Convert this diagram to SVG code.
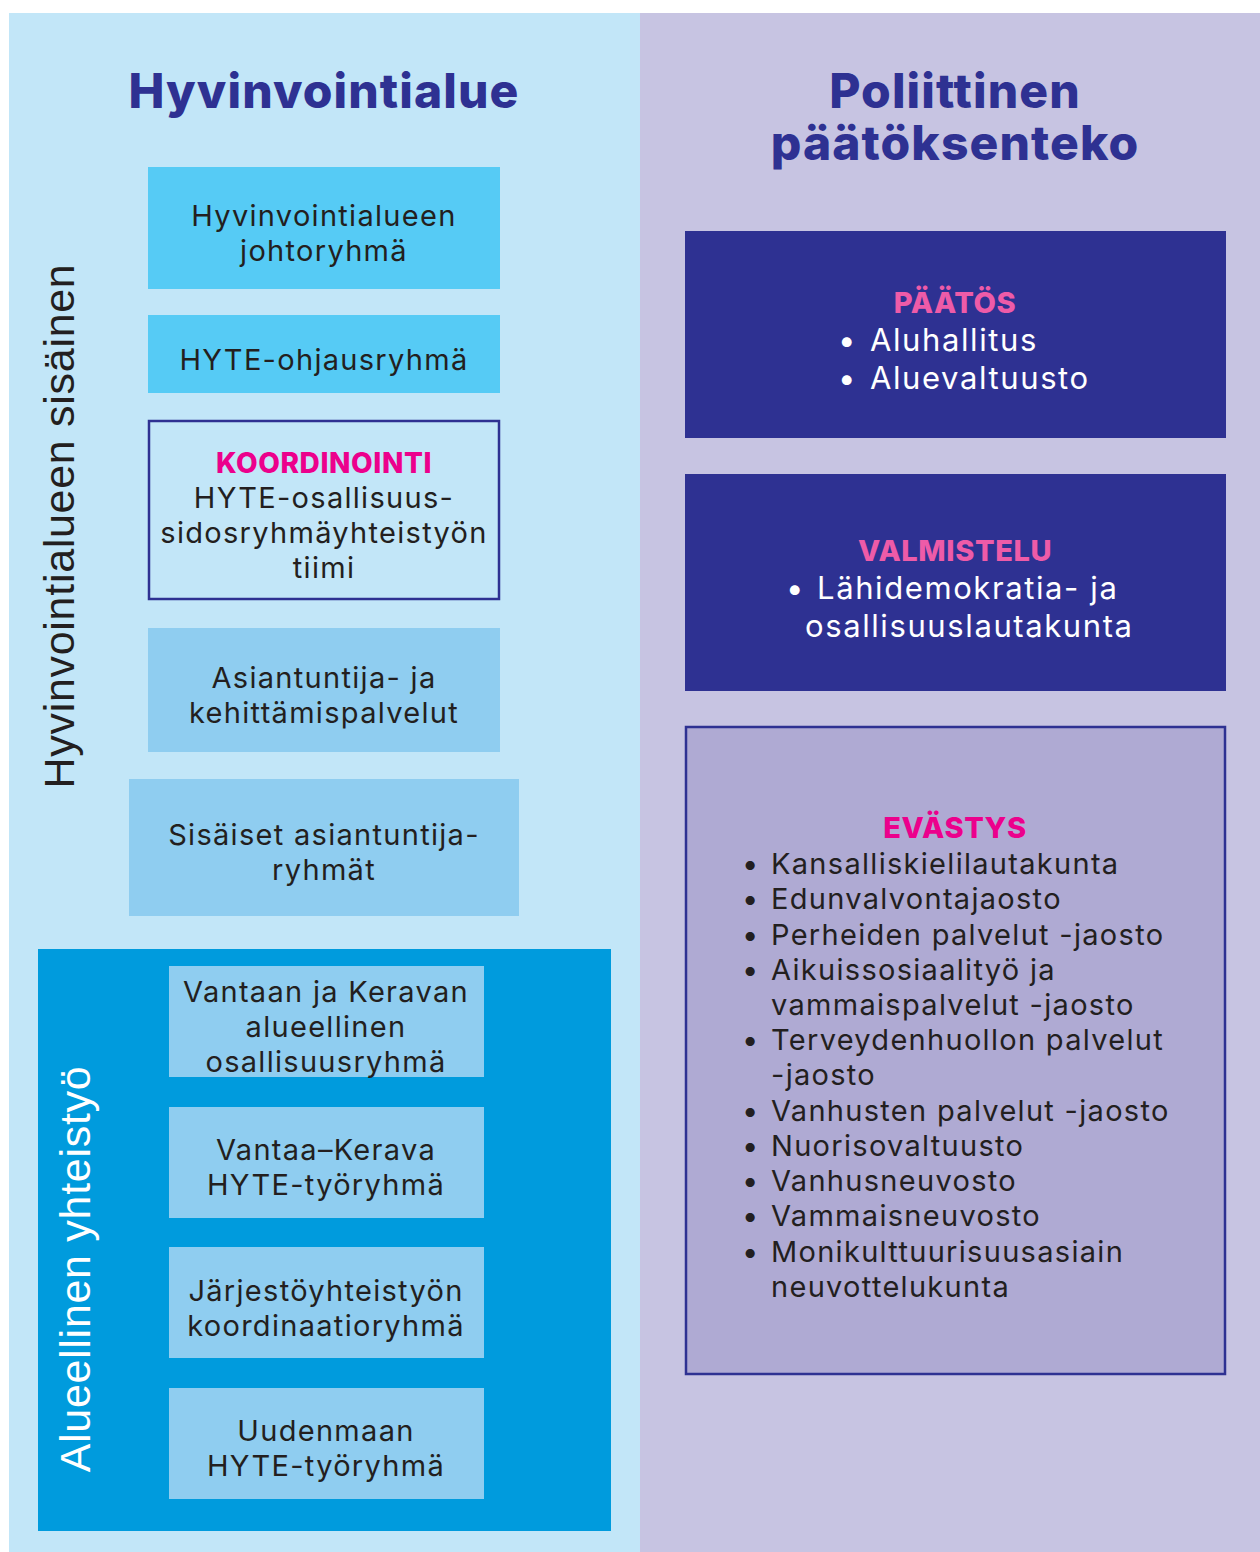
<svg xmlns="http://www.w3.org/2000/svg" width="1260" height="1552" viewBox="0 0 1260 1552">
<style>
.t{font-family:Inter,"Noto Sans","Liberation Sans",sans-serif;font-size:29px;letter-spacing:1.3px;fill:#231f20;text-anchor:middle}
.title{font-family:Inter,"Noto Sans","Liberation Sans",sans-serif;font-weight:800;font-size:48px;letter-spacing:1.1px;fill:#2e3192;text-anchor:middle}
.pink{font-family:Inter,"Noto Sans","Liberation Sans",sans-serif;font-weight:800;font-size:28px;letter-spacing:0.6px;fill:#ec008c;text-anchor:middle}
.w{font-family:Inter,"Noto Sans","Liberation Sans",sans-serif;font-size:31px;letter-spacing:1.6px;fill:#ffffff}
.l{font-family:Inter,"Noto Sans","Liberation Sans",sans-serif;font-size:29px;letter-spacing:1.3px;fill:#231f20}
.vert{font-family:"Liberation Sans",Arial,sans-serif;font-size:43px;letter-spacing:0.7px;text-anchor:middle}
.c1{fill:#56cbf5}
.c2{fill:#8fcdf0}
</style>
<rect x="0" y="0" width="1260" height="1552" fill="#ffffff"/>
<rect x="9" y="13" width="631" height="1539" fill="#c2e6f8"/>
<rect x="640" y="13" width="620" height="1539" fill="#c7c4e2"/>
<text class="title" x="324" y="108">Hyvinvointialue</text>
<text class="title" x="955" y="108">Poliittinen<tspan x="955" y="160">päätöksenteko</tspan></text>
<text class="vert" fill="#231f20" transform="translate(74,526) rotate(-90)">Hyvinvointialueen sisäinen</text>
<g id="connectors"/>
<g id="n1"><rect class="c1" x="148" y="167" width="352" height="122"/>
<text class="t" x="324" y="226">Hyvinvointialueen</text><text class="t" x="324" y="261">johtoryhmä</text></g>
<g id="n2"><rect class="c1" x="148" y="315" width="352" height="78"/>
<text class="t" x="324" y="370">HYTE-ohjausryhmä</text></g>
<g id="n3"><rect x="149" y="421" width="350" height="178" fill="none" stroke="#2e3192" stroke-width="2.5"/>
<text class="pink" x="324" y="473">KOORDINOINTI</text>
<text class="t" x="324" y="508">HYTE-osallisuus-</text>
<text class="t" x="324" y="543">sidosryhmäyhteistyön</text>
<text class="t" x="324" y="578">tiimi</text></g>
<g id="n4"><rect class="c2" x="148" y="628" width="352" height="124"/>
<text class="t" x="324" y="688">Asiantuntija- ja</text><text class="t" x="324" y="723">kehittämispalvelut</text></g>
<g id="n5"><rect class="c2" x="129" y="779" width="390" height="137"/>
<text class="t" x="324" y="845">Sisäiset asiantuntija-</text><text class="t" x="324" y="880">ryhmät</text></g>
<g id="regional"><rect x="38" y="949" width="573" height="582" fill="#009bdd"/>
<text class="vert" fill="#ffffff" transform="translate(90,1269) rotate(-90)">Alueellinen yhteistyö</text></g>
<g id="n6"><rect class="c2" x="169" y="966" width="315" height="111"/>
<text class="t" x="326" y="1002">Vantaan ja Keravan</text><text class="t" x="326" y="1037">alueellinen</text><text class="t" x="326" y="1072">osallisuusryhmä</text></g>
<g id="n7"><rect class="c2" x="169" y="1107" width="315" height="111"/>
<text class="t" x="326" y="1160">Vantaa–Kerava</text><text class="t" x="326" y="1195">HYTE-työryhmä</text></g>
<g id="n8"><rect class="c2" x="169" y="1247" width="315" height="111"/>
<text class="t" x="326" y="1301">Järjestöyhteistyön</text><text class="t" x="326" y="1336">koordinaatioryhmä</text></g>
<g id="n9"><rect class="c2" x="169" y="1388" width="315" height="111"/>
<text class="t" x="326" y="1441">Uudenmaan</text><text class="t" x="326" y="1476">HYTE-työryhmä</text></g>
<g id="r1"><rect x="685" y="231" width="541" height="207" fill="#2e3192"/>
<text class="pink" x="955" y="313" style="fill:#ee5ba8;font-size:29px">PÄÄTÖS</text>
<text class="w" x="838" y="351">•</text><text class="w" x="870" y="351">Aluhallitus</text>
<text class="w" x="838" y="389">•</text><text class="w" x="870" y="389">Aluevaltuusto</text></g>
<g id="r2"><rect x="685" y="474" width="541" height="217" fill="#2e3192"/>
<text class="pink" x="955" y="561" style="fill:#ee5ba8;font-size:29px">VALMISTELU</text>
<text class="w" x="786" y="599">•</text><text class="w" x="817" y="599">Lähidemokratia- ja</text>
<text class="w" x="805" y="637">osallisuuslautakunta</text></g>
<g id="r3"><rect x="686" y="727" width="539" height="647" fill="#afaad3" stroke="#2e3192" stroke-width="2.5"/>
<text class="pink" x="955" y="838" style="font-size:29px">EVÄSTYS</text>
<g>
<text class="l" x="742" y="874">•</text><text class="l" x="771" y="874">Kansalliskielilautakunta</text>
<text class="l" x="742" y="909">•</text><text class="l" x="771" y="909">Edunvalvontajaosto</text>
<text class="l" x="742" y="945">•</text><text class="l" x="771" y="945">Perheiden palvelut -jaosto</text>
<text class="l" x="742" y="980">•</text><text class="l" x="771" y="980">Aikuissosiaalityö ja</text>
<text class="l" x="771" y="1015">vammaispalvelut -jaosto</text>
<text class="l" x="742" y="1050">•</text><text class="l" x="771" y="1050">Terveydenhuollon palvelut</text>
<text class="l" x="771" y="1085">-jaosto</text>
<text class="l" x="742" y="1121">•</text><text class="l" x="771" y="1121">Vanhusten palvelut -jaosto</text>
<text class="l" x="742" y="1156">•</text><text class="l" x="771" y="1156">Nuorisovaltuusto</text>
<text class="l" x="742" y="1191">•</text><text class="l" x="771" y="1191">Vanhusneuvosto</text>
<text class="l" x="742" y="1226">•</text><text class="l" x="771" y="1226">Vammaisneuvosto</text>
<text class="l" x="742" y="1262">•</text><text class="l" x="771" y="1262">Monikulttuurisuusasiain</text>
<text class="l" x="771" y="1297">neuvottelukunta</text>
</g></g>
</svg>
